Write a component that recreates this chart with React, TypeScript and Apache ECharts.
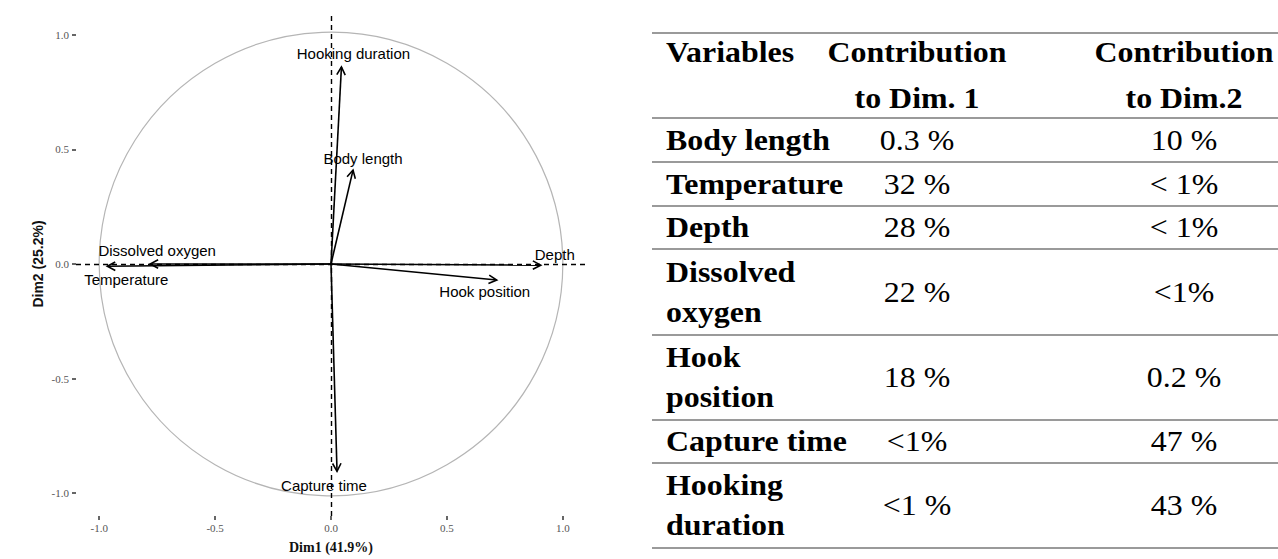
import React, { useEffect, useRef } from "react";
import * as echarts from "echarts";

// ---- Data ----
const variables = ["Body length", "Temperature", "Depth", "Dissolved oxygen", "Hook position", "Capture time", "Hooking duration"];
const dim1Coord = [0.095, -0.965, 0.905, -0.78, 0.715, 0.026, 0.045];
const dim2Coord = [0.41, -0.01, -0.005, 0.0, -0.07, -0.905, 0.86];
const axisTicks = [-1, -0.5, 0, 0.5, 1];
const xAxisTitle = "Dim1 (41.9%)";
const yAxisTitle = "Dim2 (25.2%)";

const tableHeaderTop = ["Variables", "Contribution", "Contribution"];
const tableHeaderBottom = ["", "to Dim. 1", "to Dim.2"];
const tableNames = ["Body length", "Temperature", "Depth", "Dissolved\noxygen", "Hook\nposition", "Capture time", "Hooking\nduration"];
const dim1Contrib = ["0.3 %", "32 %", "28 %", "22 %", "18 %", "<1%", "<1 %"];
const dim2Contrib = ["10 %", "< 1%", "< 1%", "<1%", "0.2 %", "47 %", "43 %"];

// ---- Layout / style (not data) ----
const labelOffsets: [number, number][] = [[10, -12], [19, 13], [14, -11], [7, -14], [-12, 11], [-13, 14], [12, -13]];
const rowLines = [33, 118, 162, 206, 249, 335, 420, 463, 548];
const tableLeft = 652;
const tableRight = 1278;
const colX = [666, 917, 1184];
const textScaleX = 1.1;
const tableFont = "'Liberation Serif', 'Times New Roman', serif";
const sansFont = "'Liberation Sans', Arial, sans-serif";

export default function App() {
  const ref = useRef<HTMLDivElement>(null);
  useEffect(() => {
    if (!ref.current) return;
    const chart = echarts.init(ref.current, null, { renderer: "svg" });

    const graphics: any[] = [];
    rowLines.forEach((y) => {
      graphics.push({
        type: "line",
        shape: { x1: tableLeft, y1: y, x2: tableRight, y2: y },
        style: { stroke: "#9a9a9a", lineWidth: 2 },
      });
    });
    const cell = (text: string, x: number, y: number, bold: boolean, left: boolean) => ({
      type: "text",
      x,
      y,
      scaleX: textScaleX,
      style: {
        text,
        x: 0,
        y: 0,
        fill: "#000",
        font: `${bold ? "bold " : ""}29px ${tableFont}`,
        lineHeight: 40,
        align: left ? "left" : "center",
        verticalAlign: "middle",
      },
    });
    tableHeaderTop.forEach((h, i) => graphics.push(cell(h, colX[i], 52, true, i === 0)));
    tableHeaderBottom.forEach((h, i) => {
      if (h) graphics.push(cell(h, colX[i], 98, true, i === 0));
    });
    tableNames.forEach((name, r) => {
      const cy = (rowLines[r + 1] + rowLines[r + 2]) / 2;
      graphics.push(cell(name, colX[0], cy, true, true));
      graphics.push(cell(dim1Contrib[r], colX[1], cy, false, false));
      graphics.push(cell(dim2Contrib[r], colX[2], cy, false, false));
    });

    const arrowData = variables.map((n, i) => [dim1Coord[i], dim2Coord[i], n]);

    const axisCommon = {
      type: "value",
      min: -1.1,
      max: 1.1,
      axisLine: { show: false, onZero: false },
      splitLine: { show: false },
      axisTick: { show: true, length: 4, customValues: axisTicks, lineStyle: { color: "#333", width: 1.5 } },
    };

    chart.setOption({
      animation: false,
      backgroundColor: "#fff",
      grid: { left: 76, top: 12, width: 510, height: 510 },
      xAxis: {
        ...axisCommon,
        axisLabel: {
          customValues: axisTicks,
          formatter: (v: number) => v.toFixed(1),
          color: "#555",
          fontSize: 11,
          fontFamily: tableFont,
          margin: 6,
        },
        name: xAxisTitle,
        nameLocation: "middle",
        nameGap: 24,
        nameTextStyle: { color: "#111", fontSize: 14, fontWeight: "bold", fontFamily: tableFont },
      },
      yAxis: {
        ...axisCommon,
        axisLabel: {
          customValues: axisTicks,
          formatter: (v: number) => v.toFixed(1),
          color: "#555",
          fontSize: 11,
          fontFamily: tableFont,
          margin: 7,
        },
        name: yAxisTitle,
        nameLocation: "middle",
        nameGap: 31,
        nameRotate: 90,
        nameTextStyle: { color: "#111", fontSize: 14, fontWeight: "bold", fontFamily: sansFont },
      },
      graphic: graphics,
      series: [
        {
          type: "custom",
          silent: true,
          data: [[0, 0]],
          renderItem: (params: any, api: any) => {
            const c = api.coord([0, 0]);
            const r = api.size([1, 1])[0];
            return {
              type: "circle",
              shape: { cx: c[0], cy: c[1], r },
              style: { fill: "none", stroke: "#b5b5b5", lineWidth: 1.2 },
            };
          },
          markLine: {
            silent: true,
            symbol: "none",
            label: { show: false },
            lineStyle: { type: [5, 4], color: "#000", width: 1.4 },
            data: [{ yAxis: 0 }, { xAxis: 0 }],
          },
          z: 1,
        },
        {
          type: "custom",
          silent: true,
          data: arrowData,
          z: 3,
          renderItem: (params: any, api: any) => {
            const p0 = api.coord([0, 0]);
            const p1 = api.coord([api.value(0), api.value(1)]);
            const dx = p1[0] - p0[0];
            const dy = p1[1] - p0[1];
            const len = Math.sqrt(dx * dx + dy * dy) || 1;
            const ux = dx / len;
            const uy = dy / len;
            const hl = 9;
            const ang = (28 * Math.PI) / 180;
            const cos = Math.cos(ang);
            const sin = Math.sin(ang);
            const a1 = [p1[0] - hl * (ux * cos - uy * sin), p1[1] - hl * (uy * cos + ux * sin)];
            const a2 = [p1[0] - hl * (ux * cos + uy * sin), p1[1] - hl * (uy * cos - ux * sin)];
            const off = labelOffsets[params.dataIndex];
            return {
              type: "group",
              children: [
                {
                  type: "line",
                  shape: { x1: p0[0], y1: p0[1], x2: p1[0], y2: p1[1] },
                  style: { stroke: "#000", lineWidth: 1.6 },
                },
                {
                  type: "polyline",
                  shape: { points: [a1, p1, a2] },
                  style: { stroke: "#000", lineWidth: 1.6, fill: "none" },
                },
                {
                  type: "text",
                  style: {
                    text: variables[params.dataIndex],
                    x: p1[0] + off[0],
                    y: p1[1] + off[1],
                    align: "center",
                    verticalAlign: "middle",
                    fill: "#000",
                    font: `15px ${sansFont}`,
                  },
                },
              ],
            };
          },
        },
      ],
    });
    return () => chart.dispose();
  }, []);
  return (
    <div
      ref={ref}
      style={{ position: "absolute", left: 0, top: 0, width: 1278, height: 559, background: "#fff" }}
    />
  );
}
